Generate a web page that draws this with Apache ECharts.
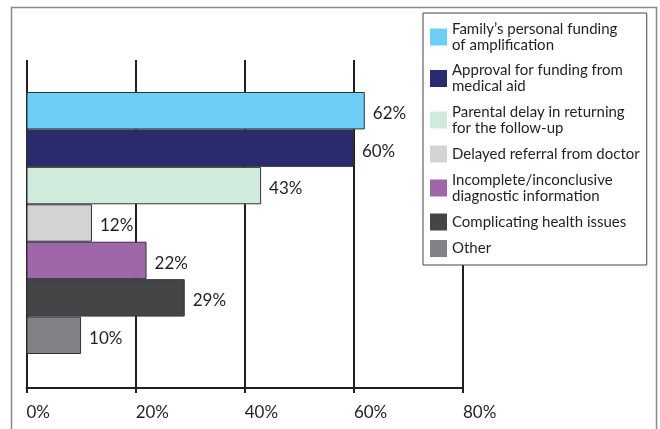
<!DOCTYPE html>
<html>
<head>
<meta charset="utf-8">
<script src="https://cdn.jsdelivr.net/npm/echarts@6/dist/echarts.min.js"></script>
<style>html,body{margin:0;padding:0;background:#fff;}#c{width:660px;height:429px;}</style>
</head>
<body>
<div id="c"></div>
<script>
var categories = [
  "Family\u2019s personal funding\nof amplification",
  "Approval for funding from\nmedical aid",
  "Parental delay in returning\nfor the follow-up",
  "Delayed referral from doctor",
  "Incomplete/inconclusive\ndiagnostic information",
  "Complicating health issues",
  "Other"
];
var values = [62, 60, 43, 12, 22, 29, 10];
var colors = ["#6dcff6", "#2a2a6f", "#d0eadc", "#d1d3d4", "#a066aa", "#444547", "#808285"];
var xTicks = [0, 20, 40, 60, 80];

var FONT = "Lato";
var INK = "#231f20";

var series = categories.map(function (name, i) {
  return {
    type: "bar",
    name: name,
    xAxisIndex: 0,
    yAxisIndex: 0,
    data: [values[i]],
    barGap: "0%",
    barCategoryGap: "0%",
    itemStyle: { color: colors[i], borderColor: "#333", borderWidth: 1 },
    label: {
      show: true,
      position: "right",
      distance: 8,
      offset: [0, 3],
      formatter: "{c}%",
      fontFamily: FONT,
      fontSize: 17,
      color: INK
    }
  };
});

var chart = echarts.init(document.getElementById("c"), null, { renderer: "canvas" });
chart.setOption({
  animation: false,
  backgroundColor: "#fff",
  grid: [
    { left: 26.5, right: 197, top: 92, height: 262 },
    { left: 26.5, right: 197, top: 60, bottom: 41 }
  ],
  xAxis: [
    { gridIndex: 0, type: "value", min: xTicks[0], max: xTicks[xTicks.length - 1], show: false },
    {
      gridIndex: 1, type: "value", min: xTicks[0], max: xTicks[xTicks.length - 1], interval: 20,
      axisLine: { show: true, lineStyle: { color: INK, width: 2 } },
      axisTick: { show: true, inside: false, length: 5, lineStyle: { color: INK, width: 2 } },
      splitLine: { show: true, lineStyle: { color: INK, width: 2 } },
      axisLabel: {
        formatter: "{value}%", align: "left", margin: 16,
        fontFamily: FONT, fontSize: 17, color: INK
      }
    }
  ],
  yAxis: [
    { gridIndex: 0, type: "category", data: ["all"], show: false, inverse: true },
    { gridIndex: 1, type: "value", show: false }
  ],
  legend: {
    orient: "vertical",
    left: 423,
    top: 13,
    padding: [8, 7, 8, 7],
    itemGap: 9.5,
    itemWidth: 17,
    itemHeight: 17,
    itemTextGap: 12,
    icon: "rect",
    backgroundColor: "#fff",
    borderColor: "#444",
    borderWidth: 1,
    itemStyle: { borderWidth: 0 },
    textStyle: { fontFamily: FONT, fontSize: 15, lineHeight: 16, color: INK, width: 186, overflow: "none" },
    data: categories
  },
  graphic: [
    {
      type: "rect",
      shape: { x: 11.5, y: 7.5, width: 645, height: 440 },
      style: { fill: null, stroke: "#8a8a8a", lineWidth: 1.5 },
      silent: true
    }
  ],
  series: series
});
</script>
</body>
</html>
